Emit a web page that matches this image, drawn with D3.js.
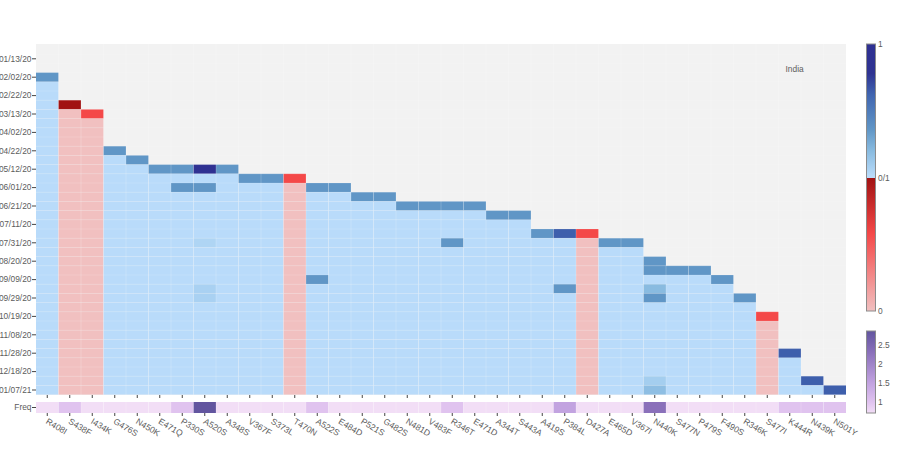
<!DOCTYPE html>
<html><head><meta charset="utf-8">
<script src="https://cdn.jsdelivr.net/npm/d3@7/dist/d3.min.js"></script>
<style>html,body{margin:0;padding:0;background:#fff}svg{display:block}
text{font-family:"Liberation Sans",sans-serif;fill:#5c5c5c}
.domain{display:none}.tick line{stroke:#444;stroke-width:1}</style></head>
<body><svg id="c" width="900" height="451"></svg>
<script>
const mutations=["R408I","S438F","I434K","G476S","N450K","E471Q","P330S","A520S","A348S","V367F","S373L","T470N","A522S","E484D","P521S","G482S","N481D","V483F","R346T","E471D","A344T","S443A","A419S","P384L","D427A","E465D","V367I","N440K","S477N","P479S","F490S","R346K","S477I","K444R","N439K","N501Y"];
const dates=["01/03/20","01/13/20","01/23/20","02/02/20","02/12/20","02/22/20","03/03/20","03/13/20","03/23/20","04/02/20","04/12/20","04/22/20","05/02/20","05/12/20","05/22/20","06/01/20","06/11/20","06/21/20","07/01/20","07/11/20","07/21/20","07/31/20","08/10/20","08/20/20","08/30/20","09/09/20","09/19/20","09/29/20","10/09/20","10/19/20","10/29/20","11/08/20","11/18/20","11/28/20","12/08/20","12/18/20","12/28/20","01/07/21"];
const dateTicks=dates.filter((d,i)=>i%2===1);
const firstSeen=["02/02/20","03/03/20","03/13/20","04/22/20","05/02/20","05/12/20","05/12/20","05/12/20","05/12/20","05/22/20","05/22/20","05/22/20","06/01/20","06/01/20","06/11/20","06/11/20","06/21/20","06/21/20","06/21/20","06/21/20","07/01/20","07/01/20","07/21/20","07/21/20","07/21/20","07/31/20","07/31/20","08/20/20","08/30/20","08/30/20","09/09/20","09/29/20","10/19/20","11/28/20","12/28/20","01/07/21"];
const firstValue=[.68,.497,.29,.68,.68,.68,.68,1,.68,.68,.68,.29,.68,.68,.68,.68,.68,.68,.68,.68,.68,.68,.68,.82,.29,.68,.68,.68,.68,.68,.68,.68,.29,.82,.82,.82];
const laterValue=[.505,0,0,.505,.505,.505,.505,.505,.505,.505,.505,0,.505,.505,.505,.505,.505,.505,.505,.505,.505,.505,.505,.505,0,.505,.505,.505,.505,.505,.505,.505,0,.505,.505,.505];
const extraCells=[["P330S","06/01/20",.68],["A520S","06/01/20",.68],["A520S","07/31/20",.525],["R346T","07/31/20",.68],["A522S","09/09/20",.68],["A520S","09/19/20",.535],["A520S","09/29/20",.535],["P384L","09/19/20",.68],["N440K","08/30/20",.68],["N440K","09/19/20",.6],["N440K","09/29/20",.68],["N440K","12/28/20",.545],["N440K","01/07/21",.59]];
const freq=[.72,1,.72,.72,.72,.72,1,2.85,.72,.72,.72,.72,1,.72,.72,.72,.72,.72,1,.72,.72,.72,.72,1.5,.72,.72,.72,2.3,.72,.72,.72,.72,.72,1,1,1];
const zTicks=[[0,"0"],[.5,"0/1"],[1,"1"]];
const fTicks=[1,1.5,2,2.5];

const svg=d3.select("#c");
const x=d3.scaleBand().domain(mutations).range([36,846]);
const y=d3.scaleBand().domain(dates).range([45,394.6]);
const fy=d3.scaleBand().domain(["Freq"]).range([402,413]);
const zDom=[0,.29,.4999,.5,.6,.68,.81,.89,1];
const zCol=["#f1c0c0","#f44848","#a01212","#bbddfb","#89bbe0","#6096c6","#4065b0","#2f3392","#2f3192"];
const color=d3.scaleLinear().domain(zDom).range(zCol);
const fDom=[.72,1,1.5,2.3,2.85];
const fCol=["#f2def6","#e0c3ef","#c2a3e0","#8a70ba","#62559f"];
const fcolor=d3.scaleLinear().domain(fDom).range(fCol);
const lab=s=>s.attr("font-size",8.4).style("font-family","'Liberation Sans',sans-serif").style("fill","#5c5c5c");

svg.append("rect").attr("x",36).attr("y",44).attr("width",810).attr("height",351).attr("fill","#f2f2f2");

const cells=[];
mutations.forEach((m,i)=>{
  const s=dates.indexOf(firstSeen[i]);
  dates.slice(s).forEach((d,j)=>cells.push({m,d,v:j===0?firstValue[i]:laterValue[i]}));
});
extraCells.forEach(([m,d,v])=>{const c=cells.find(k=>k.m===m&&k.d===d);c.v=v;});
svg.append("g").selectAll("rect").data(cells).join("rect")
  .attr("x",d=>x(d.m)).attr("y",d=>y(d.d)).attr("width",x.bandwidth()).attr("height",y.bandwidth())
  .attr("fill",d=>color(d.v));

const grid=svg.append("g").attr("stroke","#fff").attr("stroke-width",1);
mutations.slice(1).forEach(m=>grid.append("line").attr("stroke-opacity",.2).attr("x1",x(m)).attr("x2",x(m)).attr("y1",44).attr("y2",395));
dates.slice(1).forEach(d=>grid.append("line").attr("stroke-opacity",.14).attr("y1",y(d)).attr("y2",y(d)).attr("x1",36).attr("x2",846));

svg.append("g").selectAll("rect").data(mutations).join("rect")
  .attr("x",m=>x(m)).attr("y",fy("Freq")).attr("width",x.bandwidth()).attr("height",fy.bandwidth())
  .attr("fill",(m,i)=>fcolor(freq[i]));
const fgrid=svg.append("g").attr("stroke","#fff").attr("stroke-opacity",.2);
mutations.slice(1).forEach(m=>fgrid.append("line").attr("x1",x(m)).attr("x2",x(m)).attr("y1",402).attr("y2",413));

const ax1=svg.append("g").attr("transform","translate(36,0)").call(d3.axisLeft(y).tickValues(dateTicks).tickSize(4).tickPadding(0.5));
lab(ax1.selectAll("text"));
const ax2=svg.append("g").attr("transform","translate(36,0)").call(d3.axisLeft(fy).tickSize(4).tickPadding(0.5));
lab(ax2.selectAll("text"));
svg.append("g").attr("transform","translate(0,395)").call(d3.axisBottom(x).tickSize(3).tickFormat(""));
const ax3=svg.append("g").attr("transform","translate(0,413)").call(d3.axisBottom(x).tickSize(3).tickPadding(5));
lab(ax3.selectAll("text")).attr("font-size",8.6)
  .attr("text-anchor","start").attr("dy",0).attr("y",0).attr("x",0)
  .attr("transform","translate(-2,10) rotate(31)");

lab(svg.append("text").attr("x",785.5).attr("y",72)).text("India");

// colour bars
const defs=svg.append("defs");
const zy=d3.scaleLinear().domain([0,1]).range([311,44]);
const g1=defs.append("linearGradient").attr("id","gz").attr("x1",0).attr("x2",0).attr("y1",1).attr("y2",0);
zDom.forEach((d,i)=>g1.append("stop").attr("offset",d).attr("stop-color",zCol[i]));
svg.append("rect").attr("x",866.5).attr("y",zy(1)).attr("width",9).attr("height",zy(0)-zy(1)).attr("fill","url(#gz)").attr("stroke","#8c8c8c").attr("stroke-width",1);
const zAxis=svg.append("g").attr("transform","translate(876,0)").call(d3.axisRight(zy).tickValues(zTicks.map(t=>t[0])).tickSize(0).tickPadding(2).tickFormat(v=>zTicks.find(t=>t[0]===v)[1]));
lab(zAxis.selectAll("text"));

const fbar=d3.scaleLinear().domain([.72,2.85]).range([413,331]);
const g2=defs.append("linearGradient").attr("id","gf").attr("x1",0).attr("x2",0).attr("y1",1).attr("y2",0);
fDom.forEach((d,i)=>g2.append("stop").attr("offset",(d-.72)/(2.85-.72)).attr("stop-color",fCol[i]));
svg.append("rect").attr("x",866.5).attr("y",fbar(2.85)).attr("width",9).attr("height",fbar(.72)-fbar(2.85)).attr("fill","url(#gf)").attr("stroke","#8c8c8c").attr("stroke-width",1);
const fAxis=svg.append("g").attr("transform","translate(876,0)").call(d3.axisRight(fbar).tickValues(fTicks).tickSize(0).tickPadding(2).tickFormat(d3.format("~g")));
lab(fAxis.selectAll("text"));
</script></body></html>
